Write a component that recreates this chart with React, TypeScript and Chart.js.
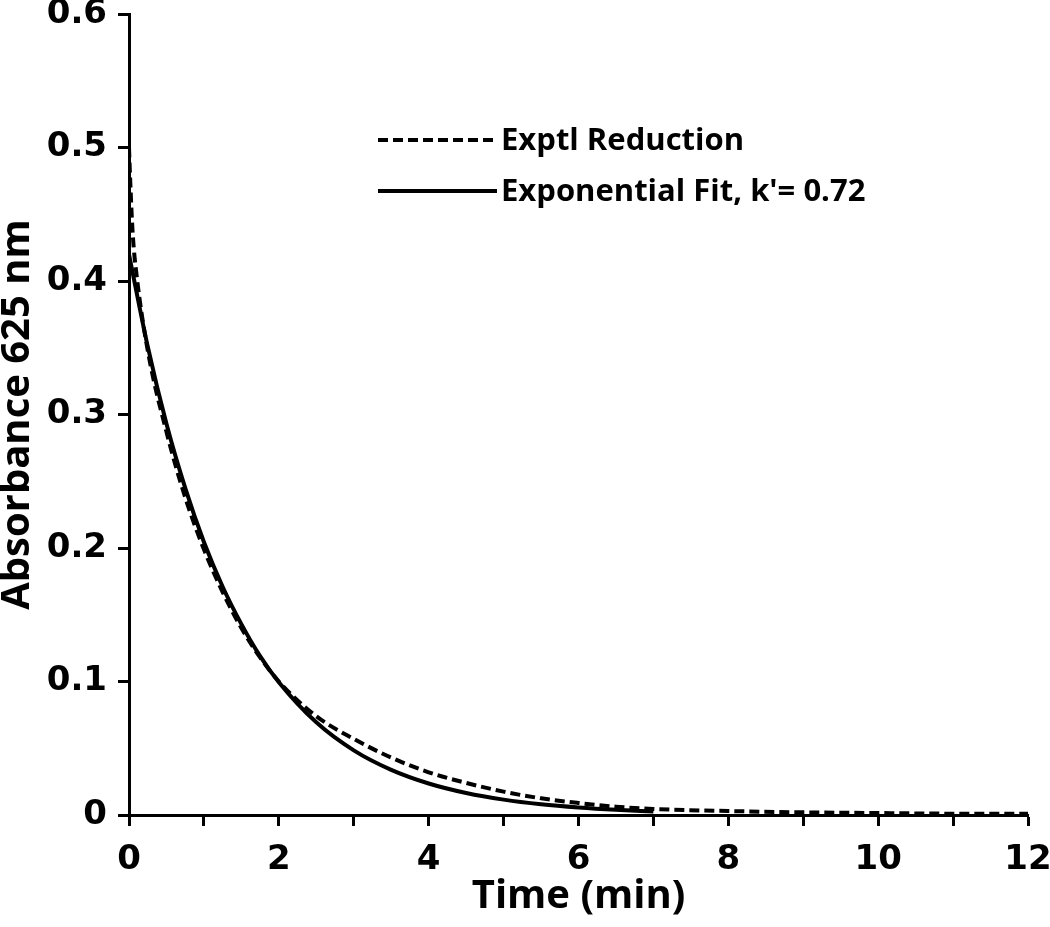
import React, { useEffect, useRef } from "react";
import { Chart, registerables } from "chart.js";
Chart.register(...registerables);

// Experimental reduction (dashed)
const expTime = [0, 0.02, 0.05, 0.1, 0.25, 0.5, 0.75, 1, 1.25, 1.5, 1.75, 2, 2.5, 3, 3.5, 4, 4.5, 5, 5.5, 6, 6.5, 7, 8, 9, 10, 11, 12];
const expAbs = [0.5, 0.47, 0.435, 0.405, 0.348, 0.287, 0.238, 0.199, 0.167, 0.14, 0.118, 0.1, 0.074, 0.057, 0.043, 0.032, 0.024, 0.0175, 0.0125, 0.009, 0.0062, 0.0045, 0.003, 0.002, 0.0015, 0.001, 0.001];

// Exponential fit (solid)
const fitTime = [0, 0.25, 0.5, 0.75, 1, 1.25, 1.5, 1.75, 2, 2.5, 3, 3.5, 4, 4.5, 5, 5.5, 6, 6.5, 7];
const fitAbs = [0.42, 0.351, 0.293, 0.245, 0.2045, 0.171, 0.143, 0.119, 0.0995, 0.0694, 0.0484, 0.0338, 0.0236, 0.0165, 0.0115, 0.008, 0.0056, 0.0039, 0.0027];

const seriesLabels = ["Exptl Reduction", "Exponential Fit, k'= 0.72"];
const xTitle = "Time (min)";
const yTitle = "Absorbance 625 nm";

const legendPlugin = {
  id: "customLegend",
  afterDatasetsDraw(chart: any) {
    const ctx = chart.ctx;
    ctx.save();
    chart.data.datasets.forEach((ds: any, i: number) => {
      const y = 140 + i * 51;
      ctx.beginPath();
      ctx.setLineDash(ds.borderDash || []);
      ctx.lineWidth = 4;
      ctx.strokeStyle = "#000";
      ctx.moveTo(378, y);
      ctx.lineTo(497, y);
      ctx.stroke();
      ctx.setLineDash([]);
      ctx.font = "bold 31px 'Open Sans'";
      ctx.fillStyle = "#000";
      ctx.textBaseline = "alphabetic";
      ctx.textAlign = "left";
      ctx.fillText(ds.label, 501, y + 10);
    });
    ctx.restore();
  },
};

export default function App() {
  const ref = useRef<HTMLCanvasElement>(null);
  useEffect(() => {
    if (!ref.current) return;
    const chart = new Chart(ref.current, {
      type: "line",
      data: {
        datasets: [
          {
            label: seriesLabels[0],
            data: expTime.map((t, i) => ({ x: t, y: expAbs[i] })),
            borderColor: "#000",
            borderWidth: 4,
            borderDash: [10, 5],
            pointRadius: 0,
            cubicInterpolationMode: "monotone",
            fill: false,
          },
          {
            label: seriesLabels[1],
            data: fitTime.map((t, i) => ({ x: t, y: fitAbs[i] })),
            borderColor: "#000",
            borderWidth: 4,
            pointRadius: 0,
            cubicInterpolationMode: "monotone",
            fill: false,
          },
        ],
      },
      options: {
        animation: false,
        responsive: true,
        maintainAspectRatio: false,
        layout: { padding: { top: 14, right: 22, left: 0, bottom: 0 } },
        plugins: { legend: { display: false }, tooltip: { enabled: false } },
        scales: {
          x: {
            type: "linear",
            min: 0,
            max: 12,
            border: { display: true, color: "#000", width: 3 },
            grid: { display: true, drawOnChartArea: false, drawTicks: true, tickLength: 11, tickColor: "#000", tickWidth: 3 },
            ticks: {
              stepSize: 1,
              autoSkip: false,
              maxRotation: 0,
              padding: 14,
              color: "#000",
              font: { family: "'DejaVu Sans'", weight: "bold", size: 34 },
              callback: (v: any) => (Number(v) % 2 === 0 ? String(v) : ""),
            },
            title: {
              display: true,
              text: xTitle,
              color: "#000",
              font: { family: "'Open Sans'", weight: "bold", size: 40, lineHeight: 1.2 },
              padding: { top: 0, bottom: 6 },
            },
            afterFit: (s: any) => {
              s.height = 112;
              s.paddingLeft = 0;
              s.paddingRight = 0;
            },
          },
          y: {
            type: "linear",
            min: 0,
            max: 0.6,
            border: { display: true, color: "#000", width: 3 },
            grid: { display: true, drawOnChartArea: false, drawTicks: true, tickLength: 11, tickColor: "#000", tickWidth: 3 },
            ticks: {
              stepSize: 0.1,
              padding: 11,
              color: "#000",
              font: { family: "'DejaVu Sans'", weight: "bold", size: 34 },
              callback: (v: any) => (Number(v) === 0 ? "0" : Number(v).toFixed(1)),
            },
            title: {
              display: true,
              text: yTitle,
              color: "#000",
              font: { family: "'Open Sans'", weight: "bold", size: 40, lineHeight: 0.9 },
              padding: { top: 0, bottom: 0 },
            },
            afterFit: (s: any) => {
              s.width = 129;
              s.paddingTop = 0;
              s.paddingBottom = 0;
            },
          },
        },
      },
      plugins: [legendPlugin],
    } as any);
    return () => chart.destroy();
  }, []);
  return (
    <div style={{ position: "absolute", left: 0, top: 0, width: 1050, height: 927, background: "#fff" }}>
      <canvas ref={ref} />
    </div>
  );
}
